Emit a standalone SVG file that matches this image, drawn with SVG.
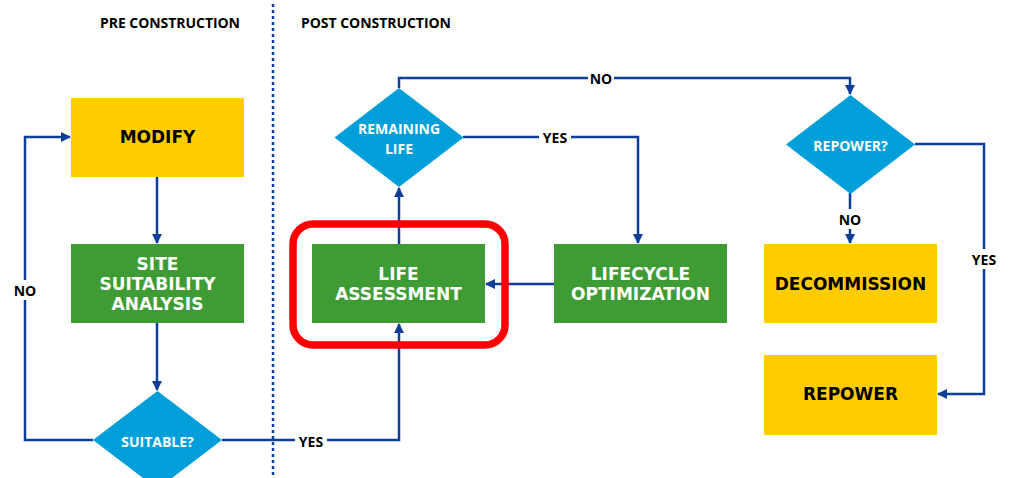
<svg xmlns="http://www.w3.org/2000/svg" width="1010" height="478" viewBox="0 0 1010 478">
  <style>
    .box-y { fill: #FFCC00; }
    .box-g { fill: #3F9C35; }
    .dia { fill: #009FDA; }
    .btxt { font-family: "DejaVu Sans", Verdana, sans-serif; font-weight: bold; font-size: 17px; text-anchor: middle; dominant-baseline: central; }
    .dark { fill: #000000; }
    .light { fill: #FFFFFF; }
    .dtxt { font-family: "Open Sans", "Liberation Sans", sans-serif; font-weight: bold; font-size: 14px; fill: #FFFFFF; text-anchor: middle; dominant-baseline: central; }
    .hdr { font-family: "Open Sans", "Liberation Sans", sans-serif; font-weight: bold; font-size: 14px; fill: #000000; dominant-baseline: central; }
    .lbl { font-family: "Open Sans", "Liberation Sans", sans-serif; font-weight: bold; font-size: 14px; fill: #000000; text-anchor: middle; dominant-baseline: central; }
    .conn { fill: none; stroke: #0D3F99; stroke-width: 2.5; }
    .lblbg { fill: #FFFFFF; }
  </style>
  <defs>
    <marker id="arrow" viewBox="0 0 10 10" refX="9" refY="5" markerWidth="4" markerHeight="4" orient="auto" markerUnits="strokeWidth">
      <path d="M0,0 L10,5 L0,10 Z" fill="#0D3F99"/>
    </marker>
  </defs>

  <rect width="1010" height="478" fill="#FFFFFF"/>

  <!-- phase headers and separator -->
  <g id="headers">
    <text class="hdr" x="100" y="22" textLength="140">PRE CONSTRUCTION</text>
    <text class="hdr" x="301" y="22" textLength="150">POST CONSTRUCTION</text>
    <line x1="273" y1="4" x2="273" y2="478" stroke="#0D3F99" stroke-width="2.5" stroke-dasharray="3,3"/>
  </g>

  <!-- connectors -->
  <g id="connectors">
    <path class="conn" d="M157,177 V243" marker-end="url(#arrow)"/>
    <path class="conn" d="M157,323 V390" marker-end="url(#arrow)"/>
    <path class="conn" d="M93,440 H25 V137 H70" marker-end="url(#arrow)"/>
    <path class="conn" d="M222,440 H399 V324" marker-end="url(#arrow)"/>
    <path class="conn" d="M399,244 V188" marker-end="url(#arrow)"/>
    <path class="conn" d="M399,88 V78 H850 V94" marker-end="url(#arrow)"/>
    <path class="conn" d="M463,137 H638 V243" marker-end="url(#arrow)"/>
    <path class="conn" d="M554,284 H486" marker-end="url(#arrow)"/>
    <path class="conn" d="M850,193 V243" marker-end="url(#arrow)"/>
    <path class="conn" d="M915,144 H984 V394 H938" marker-end="url(#arrow)"/>

    <rect class="lblbg" x="10" y="280" width="30" height="20"/>
    <text class="lbl" x="25" y="290">NO</text>
    <rect class="lblbg" x="295" y="432" width="32" height="18"/>
    <text class="lbl" x="311" y="441">YES</text>
    <rect class="lblbg" x="588" y="70" width="26" height="17"/>
    <text class="lbl" x="601" y="78">NO</text>
    <rect class="lblbg" x="539" y="129" width="32" height="17"/>
    <text class="lbl" x="555" y="137">YES</text>
    <rect class="lblbg" x="837" y="209" width="26" height="20"/>
    <text class="lbl" x="850" y="219">NO</text>
    <rect class="lblbg" x="968" y="249" width="32" height="20"/>
    <text class="lbl" x="984" y="259">YES</text>
  </g>

  <!-- pre-construction nodes -->
  <g id="modify">
    <rect class="box-y" x="71" y="98" width="173" height="79"/>
    <text class="btxt dark" x="157.5" y="137">MODIFY</text>
  </g>
  <g id="site-suitability">
    <rect class="box-g" x="71" y="244" width="173" height="79"/>
    <text class="btxt light" x="157.5" y="264">SITE</text>
    <text class="btxt light" x="157.5" y="284">SUITABILITY</text>
    <text class="btxt light" x="157.5" y="304">ANALYSIS</text>
  </g>
  <g id="suitable">
    <polygon class="dia" points="157.5,391 222,440 157.5,489 93,440"/>
    <text class="dtxt" x="157.5" y="441">SUITABLE?</text>
  </g>

  <!-- post-construction nodes -->
  <g id="life-assessment">
    <rect x="293" y="224" width="212" height="121" rx="20" ry="20" fill="none" stroke="#FF0000" stroke-width="7.5"/>
    <rect class="box-g" x="312" y="244" width="173" height="79"/>
    <text class="btxt light" x="398.5" y="274">LIFE</text>
    <text class="btxt light" x="398.5" y="294">ASSESSMENT</text>
  </g>
  <g id="remaining-life">
    <polygon class="dia" points="399,88 463.5,137.5 399,187 334.5,137.5"/>
    <text class="dtxt" x="399" y="128">REMAINING</text>
    <text class="dtxt" x="399" y="148">LIFE</text>
  </g>
  <g id="lifecycle-optimization">
    <rect class="box-g" x="554" y="244" width="173" height="79"/>
    <text class="btxt light" x="640.5" y="274">LIFECYCLE</text>
    <text class="btxt light" x="640.5" y="294">OPTIMIZATION</text>
  </g>
  <g id="repower-decision">
    <polygon class="dia" points="850.5,95 915,144.5 850.5,194 786,144.5"/>
    <text class="dtxt" x="850.5" y="145">REPOWER?</text>
  </g>
  <g id="decommission">
    <rect class="box-y" x="764" y="244" width="173" height="79"/>
    <text class="btxt dark" x="850.5" y="284">DECOMMISSION</text>
  </g>
  <g id="repower">
    <rect class="box-y" x="764" y="355" width="173" height="80"/>
    <text class="btxt dark" x="850.5" y="394">REPOWER</text>
  </g>
</svg>
